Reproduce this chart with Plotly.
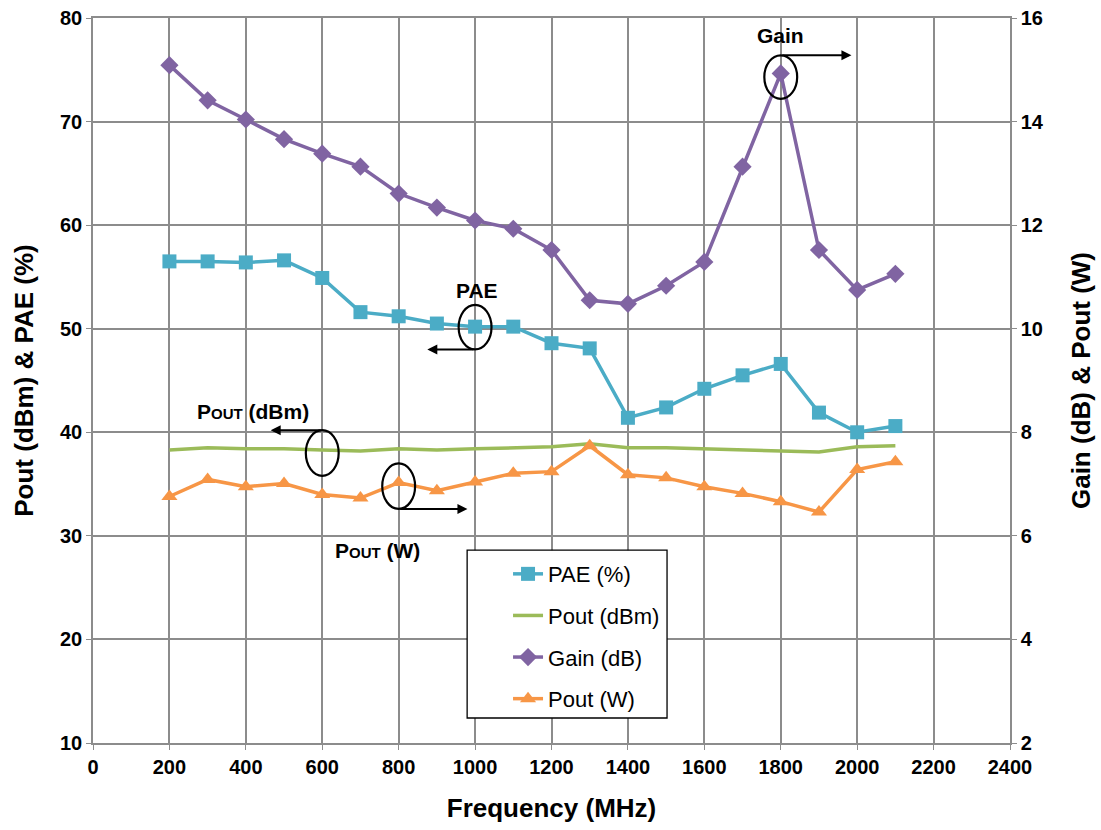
import plotly.graph_objects as go

freq = [200, 300, 400, 500, 600, 700, 800, 900, 1000, 1100, 1200, 1300, 1400, 1500, 1600, 1700, 1800, 1900, 2000, 2100]
pae = [56.5, 56.5, 56.4, 56.6, 54.9, 51.6, 51.2, 50.5, 50.2, 50.2, 48.6, 48.1, 41.4, 42.4, 44.2, 45.5, 46.6, 41.9, 40.0, 40.6]
pout_dbm = [38.3, 38.5, 38.4, 38.4, 38.3, 38.2, 38.4, 38.3, 38.4, 38.5, 38.6, 38.9, 38.5, 38.5, 38.4, 38.3, 38.2, 38.1, 38.6, 38.7]
gain_db = [15.09, 14.41, 14.04, 13.66, 13.38, 13.13, 12.61, 12.34, 12.09, 11.93, 11.52, 10.55, 10.48, 10.83, 11.29, 13.13, 14.93, 11.52, 10.75, 11.06]
pout_w = [6.76, 7.09, 6.95, 7.01, 6.80, 6.73, 7.03, 6.87, 7.04, 7.21, 7.24, 7.74, 7.18, 7.12, 6.95, 6.82, 6.66, 6.46, 7.28, 7.43]

x_ticks = list(range(0, 2401, 200))
left_ticks = list(range(10, 81, 10))
right_ticks = list(range(2, 17, 2))

C_PAE = "#4BACC6"
C_DBM = "#9BBB59"
C_GAIN = "#8064A2"
C_W = "#F79646"
FONT = "Liberation Sans, Arial, sans-serif"

fig = go.Figure()
fig.add_trace(go.Scatter(x=freq, y=pae, name="PAE (%)", mode="lines+markers",
                         line=dict(color=C_PAE, width=3.5), marker=dict(symbol="square", size=14, color=C_PAE),
                         legendgroup="a"))
fig.add_trace(go.Scatter(x=freq, y=pout_dbm, name="Pout (dBm)", mode="lines",
                         line=dict(color=C_DBM, width=3.5), legendgroup="b"))
fig.add_trace(go.Scatter(x=freq, y=gain_db, name="Gain (dB)", mode="lines+markers", yaxis="y2",
                         line=dict(color=C_GAIN, width=3.5), marker=dict(symbol="diamond", size=14, color=C_GAIN),
                         legendgroup="c"))
fig.add_trace(go.Scatter(x=freq, y=pout_w, name="Pout (W)", mode="lines+markers", yaxis="y2",
                         line=dict(color=C_W, width=3.5), marker=dict(symbol="triangle-up", size=14, color=C_W),
                         legendgroup="d"))

grid = "#8C8C8C"
tickf = dict(family=FONT, size=20, color="black", weight="bold")
titlef = dict(family=FONT, size=26, color="black")

fig.update_layout(
    width=1101, height=830,
    margin=dict(l=93, r=91, t=18, b=87),
    paper_bgcolor="white", plot_bgcolor="white",
    font=dict(family=FONT, color="black"),
    xaxis=dict(range=[0, 2400], tickvals=x_ticks, ticktext=[str(v) for v in x_ticks],
               showgrid=True, gridcolor=grid, gridwidth=1.5, zeroline=False,
               showline=True, linecolor=grid, linewidth=1.5, mirror=True,
               ticks="outside", ticklen=5, tickcolor=grid, automargin=False,
               tickfont=tickf,
               title=dict(text="<b>Frequency (MHz)</b>", font=titlef, standoff=22)),
    yaxis=dict(range=[10, 80], tickvals=left_ticks,
               showgrid=True, gridcolor=grid, gridwidth=1.5, zeroline=False,
               showline=True, linecolor=grid, linewidth=1.5,
               ticks="outside", ticklen=5, tickcolor=grid, automargin=False,
               tickfont=tickf,
               title=dict(text="<b>Pout (dBm) & PAE (%)</b>", font=titlef, standoff=19)),
    yaxis2=dict(range=[2, 16], tickvals=right_ticks, overlaying="y", side="right",
                showgrid=False, zeroline=False,
                showline=True, linecolor=grid, linewidth=1.5,
                ticks="outside", ticklen=5, tickcolor=grid, automargin=False,
                tickfont=tickf,
                title=dict(text="<b>Gain (dB) & Pout (W)</b>", font=titlef, standoff=29)),
    legend=dict(x=0.4526, y=0.262, xanchor="left", yanchor="top",
                bgcolor="rgba(0,0,0,0)", borderwidth=0,
                font=dict(family=FONT, size=22, color="black"),
                traceorder="grouped", tracegroupgap=10, itemwidth=30),
    showlegend=True,
)

# legend box
fig.add_shape(type="rect", xref="paper", yref="paper", x0=0.408, x1=0.626, y0=0.0345, y1=0.266,
              fillcolor="white", line=dict(color="black", width=1.3), layer="above")

# ellipses (left-axis data coords)
ell = dict(type="circle", xref="x", yref="y", line=dict(color="black", width=2.2), fillcolor="rgba(0,0,0,0)")
fig.add_shape(x0=1757, x1=1843, y0=72.2, y1=76.4, **ell)
fig.add_shape(x0=957, x1=1043, y0=48.0, y1=52.3, **ell)
fig.add_shape(x0=557, x1=643, y0=35.8, y1=40.2, **ell)
fig.add_shape(x0=757, x1=843, y0=32.6, y1=37.0, **ell)

def arrow(x_from, x_to, yv):
    fig.add_annotation(x=x_to, y=yv, ax=x_from, ay=yv, xref="x", yref="y", axref="x", ayref="y",
                       showarrow=True, arrowhead=2, arrowsize=1, arrowwidth=2, arrowcolor="black", text="")

arrow(1800, 1985, 76.4)
arrow(1000, 875, 48.0)
arrow(600, 465, 40.2)
arrow(800, 980, 32.6)

lab = dict(showarrow=False, xref="x", yref="y", font=dict(family=FONT, size=21, color="black"))
fig.add_annotation(x=1800, y=78.3, text="<b>Gain</b>", **lab)
fig.add_annotation(x=1005, y=53.7, text="<b>PAE</b>", **lab)
fig.add_annotation(x=420, y=42.0, text="<b>P<span style='font-size:15px'>OUT</span> (dBm)</b>", **lab)
fig.add_annotation(x=745, y=28.6, text="<b>P<span style='font-size:15px'>OUT</span> (W)</b>", **lab)

fig.write_html("out.html", config={"displayModeBar": False},
               post_script="document.body.style.margin='0';")
